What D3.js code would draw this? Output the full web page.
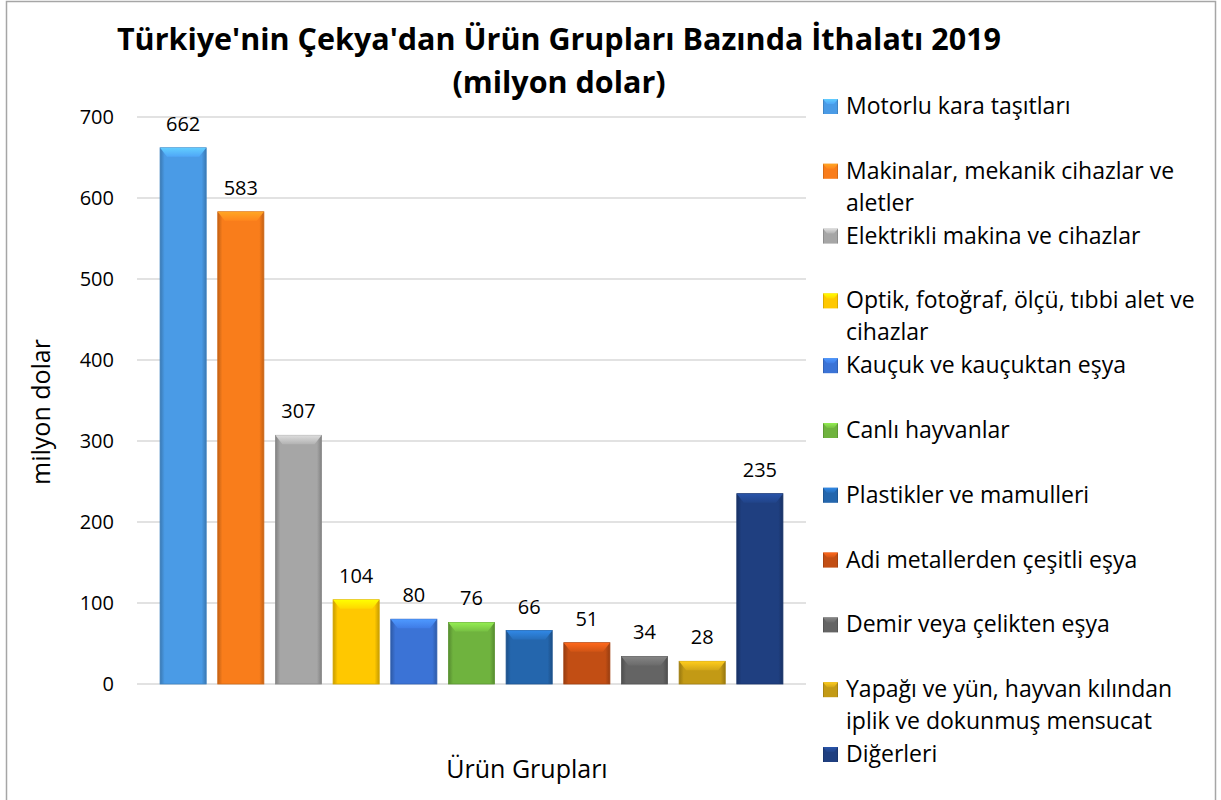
<!DOCTYPE html>
<html><head><meta charset="utf-8">
<script src="https://cdn.jsdelivr.net/npm/d3@7/dist/d3.min.js"></script>
<style>
body{margin:0;background:#fff;}
text{font-family:"Open Sans","Noto Sans",sans-serif;fill:#000;}
</style></head>
<body><svg id="c" width="1221" height="800"></svg>
<script>
const categories = ["Motorlu kara taşıtları","Makinalar, mekanik cihazlar ve aletler","Elektrikli makina ve cihazlar","Optik, fotoğraf, ölçü, tıbbi alet ve cihazlar","Kauçuk ve kauçuktan eşya","Canlı hayvanlar","Plastikler ve mamulleri","Adi metallerden çeşitli eşya","Demir veya çelikten eşya","Yapağı ve yün, hayvan kılından iplik ve dokunmuş mensucat","Diğerleri"];
const legendLines = [["Motorlu kara taşıtları"],["Makinalar, mekanik cihazlar ve","aletler"],["Elektrikli makina ve cihazlar"],["Optik, fotoğraf, ölçü, tıbbi alet ve","cihazlar"],["Kauçuk ve kauçuktan eşya"],["Canlı hayvanlar"],["Plastikler ve mamulleri"],["Adi metallerden çeşitli eşya"],["Demir veya çelikten eşya"],["Yapağı ve yün, hayvan kılından","iplik ve dokunmuş mensucat"],["Diğerleri"]];
const values = [662,583,307,104,80,76,66,51,34,28,235];
const colors = ["#4a9be6","#f97d1b","#a6a6a6","#ffc800","#3b73d6","#6fb33e","#2466ad","#c24e14","#646464","#c39a15","#1f3f80"];
const yTicks = [0,100,200,300,400,500,600,700];
const titleLines = ["Türkiye'nin Çekya'dan Ürün Grupları Bazında İthalatı 2019","(milyon dolar)"];
const xTitle = "Ürün Grupları", yTitle = "milyon dolar";

const svg = d3.select("#c");
svg.append("rect").attr("x",6.5).attr("y",1.5).attr("width",1209).attr("height",810).attr("fill","#fff").attr("stroke","#a6a6a6").attr("stroke-width",1.5);

const x = d3.scaleBand().domain(categories).range([137,806]).paddingInner(0.2).paddingOuter(0.4);
const y = d3.scaleLinear().domain([0,700]).range([684,117]);

svg.append("g").selectAll("line").data(yTicks).join("line")
  .attr("x1",137).attr("x2",806).attr("y1",d=>y(d)).attr("y2",d=>y(d))
  .attr("stroke","#d9d9d9").attr("stroke-width",1.5);
const yAxis = d3.axisLeft(y).tickValues(yTicks).tickSize(0).tickPadding(0);
const ga = svg.append("g").attr("transform","translate(114,0)").call(yAxis);
ga.select(".domain").remove();
ga.selectAll("text").style("font-size","20px").style("font-family","'Open Sans',sans-serif").attr("fill","#000");

const defs = svg.append("defs");
colors.forEach((c,i)=>{
  const base = d3.color(c);
  const g = defs.append("linearGradient").attr("id","g"+i).attr("x1","0").attr("x2","1").attr("y1","0").attr("y2","0");
  g.append("stop").attr("offset","0").attr("stop-color",base.darker(0.7));
  g.append("stop").attr("offset","0.1").attr("stop-color",base);
  g.append("stop").attr("offset","0.9").attr("stop-color",base);
  g.append("stop").attr("offset","1").attr("stop-color",base.darker(0.7));
  const t = defs.append("linearGradient").attr("id","t"+i).attr("x1","0").attr("x2","0").attr("y1","0").attr("y2","1");
  t.append("stop").attr("offset","0").attr("stop-color",base.brighter(0.8));
  t.append("stop").attr("offset","1").attr("stop-color",base.brighter(0.2));
});

const bars = svg.append("g").selectAll("g").data(values).join("g");
bars.append("rect").attr("x",(d,i)=>x(categories[i])).attr("y",d=>y(d))
  .attr("width",x.bandwidth()).attr("height",d=>y(0)-y(d))
  .attr("fill",(d,i)=>`url(#g${i})`).attr("stroke",(d,i)=>d3.color(colors[i]).darker(0.5)).attr("stroke-width",0.8);
bars.append("polygon").attr("points",(d,i)=>{
  const x0=x(categories[i]), x1=x0+x.bandwidth(), y0=y(d), h=Math.min(9,(y(0)-y(d))/2);
  return [[x0,y0],[x1,y0],[x1-7,y0+h],[x0+7,y0+h]].map(p=>p.join(",")).join(" ");
}).attr("fill",(d,i)=>`url(#t${i})`);
bars.append("text").attr("x",(d,i)=>x(categories[i])+x.bandwidth()/2).attr("y",d=>y(d)-17)
  .attr("text-anchor","middle").style("font-size","20px").text(d=>d);

svg.append("g").selectAll("text").data(titleLines).join("text")
  .attr("x",559).attr("y",(d,i)=>50+i*43).attr("text-anchor","middle")
  .style("font-size","30.5px").style("font-weight","bold").text(d=>d);
svg.append("text").attr("x",527).attr("y",778).attr("text-anchor","middle").style("font-size","25px").text(xTitle);
svg.append("text").attr("transform","translate(50,412) rotate(-90)").attr("text-anchor","middle").style("font-size","25px").text(yTitle);

const lg = svg.append("g").selectAll("g").data(legendLines).join("g")
  .attr("transform",(d,i)=>`translate(823,${106+i*64.8})`);
lg.append("rect").attr("x",0).attr("y",-7).attr("width",15).attr("height",15).attr("fill",(d,i)=>`url(#g${i})`);
lg.append("polygon").attr("points","0,-7 15,-7 11,-2 4,-2").attr("fill",(d,i)=>`url(#t${i})`);
lg.each(function(lines){
  d3.select(this).selectAll("text").data(lines).join("text")
    .attr("x",23).attr("y",(d,j)=>8+j*32).style("font-size","23px").text(d=>d);
});
</script></body></html>
